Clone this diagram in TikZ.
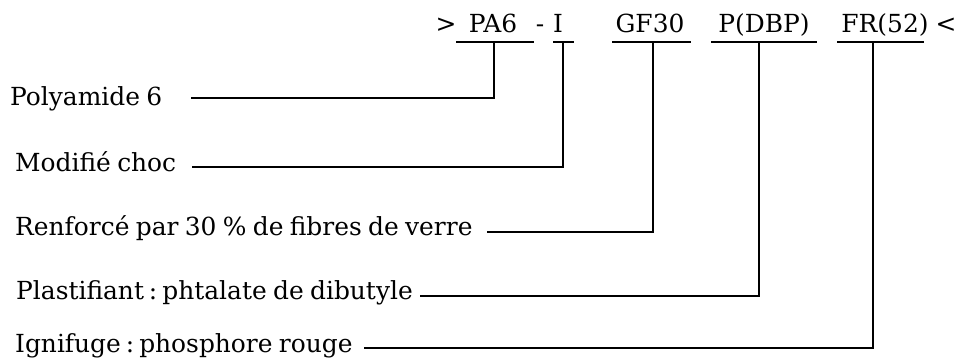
\documentclass[tikz,border=0pt]{standalone}
\usepackage{fontspec}
\setmainfont[WordSpace=0.8]{DejaVu Serif}
\newcommand{\colsp}{\hspace{5pt}:\hspace{5pt}}
\begin{document}
\begin{tikzpicture}[x=1pt,y=-1pt,
  lbl/.style={anchor=base west,inner sep=0pt,font=\fontsize{24.9}{28}\selectfont},
  code/.style={anchor=base,inner sep=0pt,font=\fontsize{24.9}{28}\selectfont},
  wire/.style={line width=1.9pt,line cap=rect}]
\useasboundingbox (0,0) rectangle (958,360);
% top designation
\node[code] (gt) at (446,32) {>};
\node[code] (pa6) at (493,32) {PA6};
\node[code] (dash) at (540,32) {-};
\node[code] (imod) at (558,32) {I};
\node[code] (gf) at (650,32) {GF30};
\node[code] (dbp) at (764,32) {P(DBP)};
\node[code] (fr) at (885,32) {FR(52)};
\node[code] (lt) at (946,32) {<};
% underline bars
\coordinate (b1l) at (457,42); \coordinate (b1r) at (533,42);
\coordinate (b2l) at (554,42); \coordinate (b2r) at (573,42);
\coordinate (b3l) at (613,42); \coordinate (b3r) at (690,42);
\coordinate (b4l) at (712,42); \coordinate (b4r) at (816,42);
\coordinate (b5l) at (838,42); \coordinate (b5r) at (923,42);
\coordinate (c1) at (494,42); \coordinate (c2) at (563,42);
\coordinate (c3) at (653,42); \coordinate (c4) at (759,42);
\coordinate (c5) at (873,42);
\foreach \i in {1,...,5} \draw[wire] (b\i l) -- (b\i r);
% labels
\node[lbl] (l1) at (10,105) {Polyamide 6};
\node[lbl] (l2) at (15,171) {Modifié choc};
\node[lbl] (l3) at (15,235) {Renforcé par 30 \% de fibres de verre};
\node[lbl] (l4) at (16,299) {Plastifiant\colsp phtalate de dibutyle};
\node[lbl] (l5) at (15,352) {Ignifuge\colsp phosphore rouge};
% label line starts
\coordinate (e1) at (192,98);
\coordinate (e2) at (193,167);
\coordinate (e3) at (488,232);
\coordinate (e4) at (421,296);
\coordinate (e5) at (365,348);
\foreach \i in {1,...,5} \draw[wire] (c\i) |- (e\i);
\end{tikzpicture}
\end{document}
